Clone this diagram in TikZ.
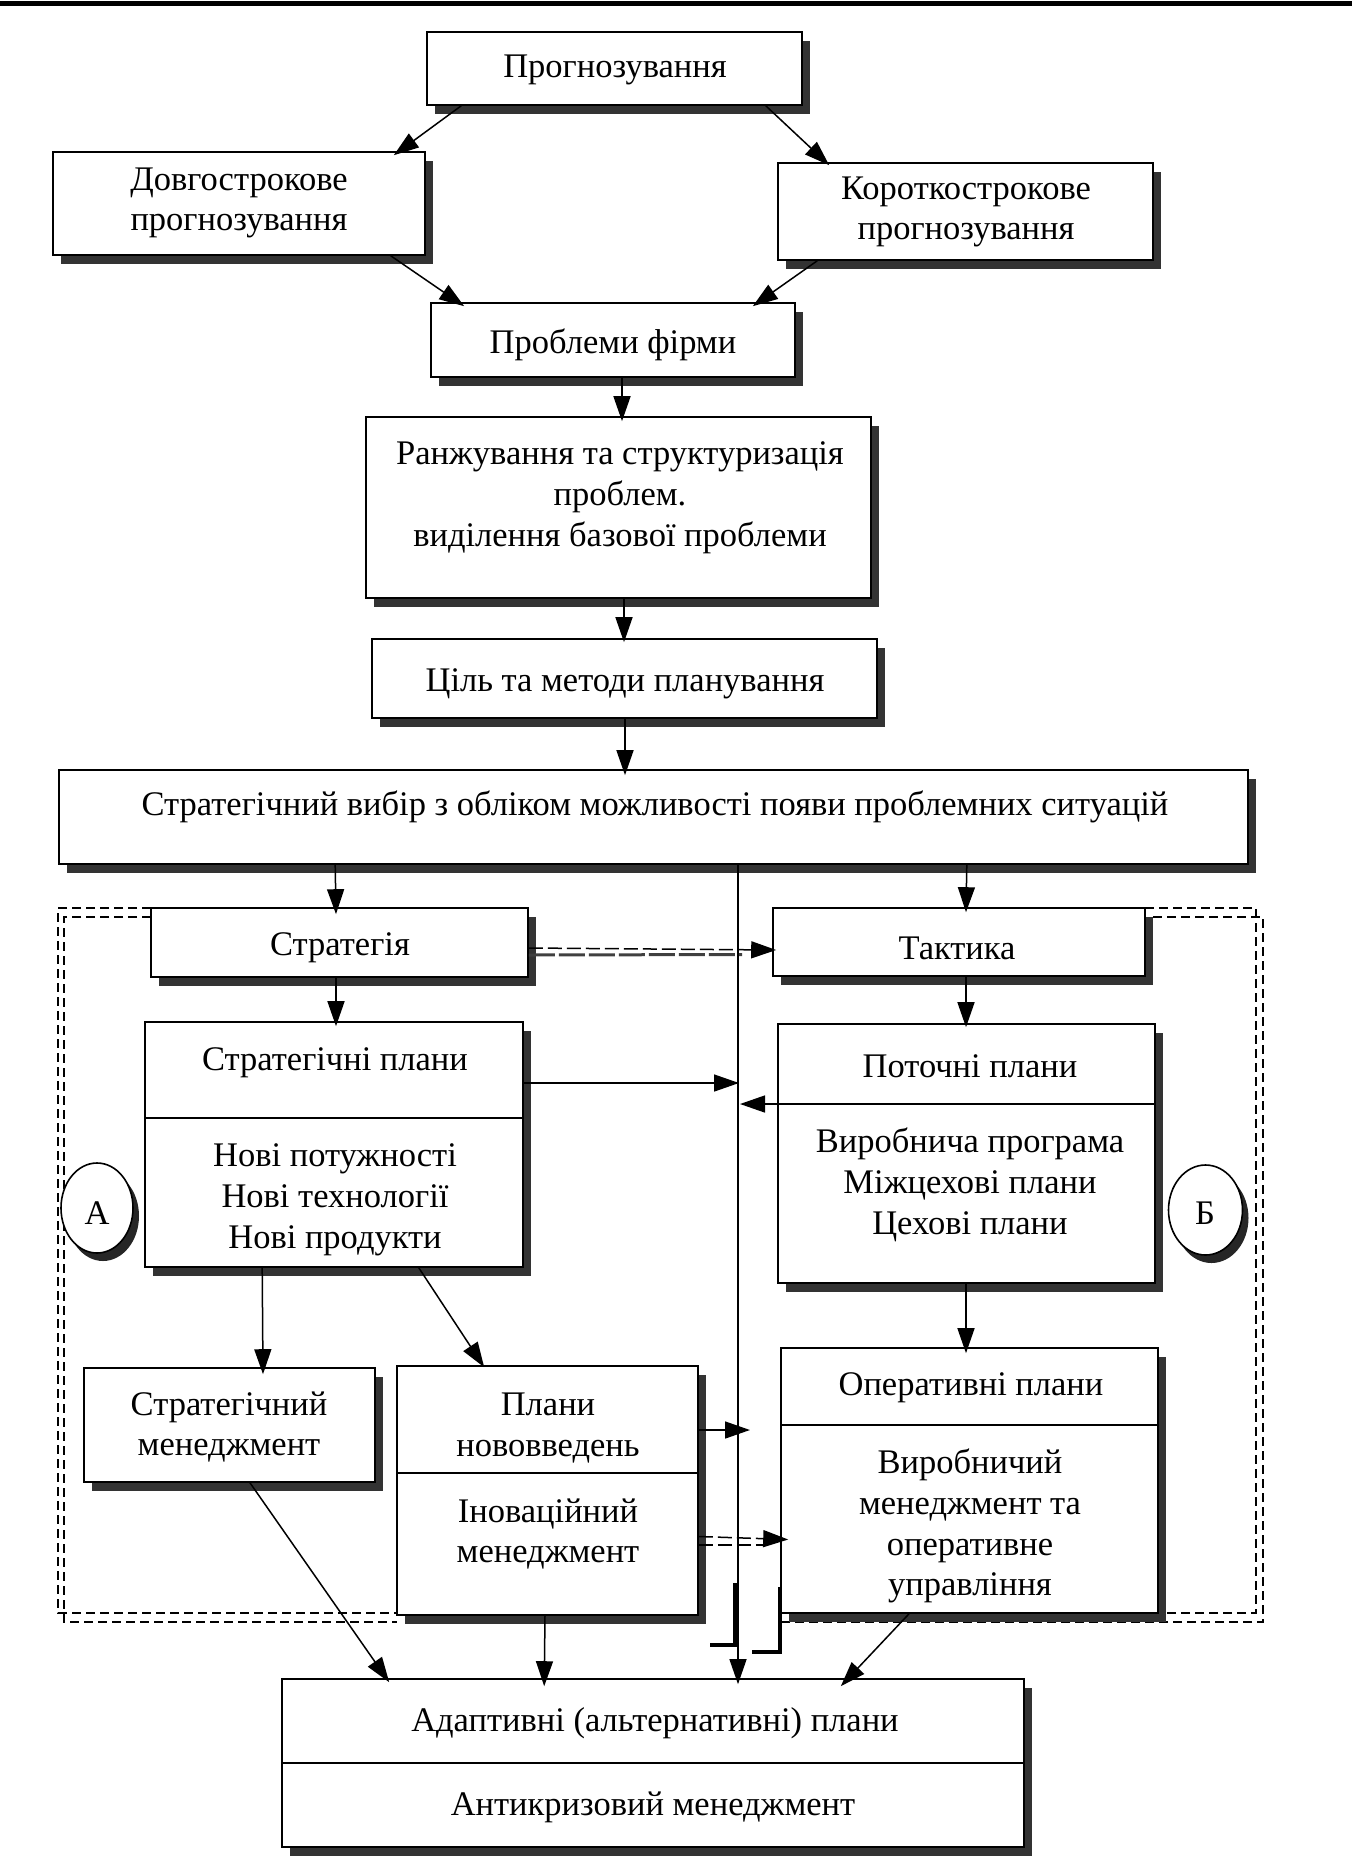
\documentclass[tikz,border=0pt]{standalone}
\usepackage{fontspec}
\setmainfont{Liberation Serif}
\usetikzlibrary{arrows.meta,shadows,shapes.geometric}
\begin{document}
\begin{tikzpicture}[x=1pt,y=-1pt,
  box/.style={draw, line width=1.6pt, fill=white, inner sep=0pt,
    drop shadow={shadow xshift=8pt, shadow yshift=-9pt, fill=black!80, opacity=1}},
  ellbox/.style={ellipse, draw, line width=1.6pt, fill=white, inner sep=0pt,
    drop shadow={shadow xshift=6pt, shadow yshift=-8pt, fill=black!85, opacity=1}},
  txt/.style={font=\fontsize{34.5}{40.8}\selectfont, align=center, inner sep=0pt},
  arr/.style={line width=1.5pt, -{Triangle[length=25pt,width=17pt]}},
  frame/.style={line width=1.6pt, dash pattern=on 9pt off 5pt},
  heavy/.style={line width=4pt},
]
\useasboundingbox (0,0) rectangle (1352,1856);
% top rule
\draw[line width=5pt] (0,3.5) -- (1352,3.5);

% dashed frames
\draw[frame] (151,908) -- (58,908) -- (58,1613) -- (397,1613);
\draw[frame] (151,917) -- (64,917) -- (64,1622) -- (397,1622);
\draw[frame] (1145,908) -- (1256,908) -- (1256,1613) -- (781,1613);
\draw[frame] (1153,917) -- (1263,917) -- (1263,1622) -- (781,1622);

% boxes
\node[box, minimum width=375pt, minimum height=73pt] (prog) at (614.5,68.5) {};
\node[box, minimum width=372pt, minimum height=103pt] (dolg) at (239,203.5) {};
\node[box, minimum width=375pt, minimum height=97pt] (korot) at (965.5,211.5) {};
\node[box, minimum width=364pt, minimum height=74pt] (probl) at (613,340) {};
\node[box, minimum width=505pt, minimum height=181pt] (ranzh) at (618.5,507.5) {};
\node[box, minimum width=505pt, minimum height=79pt] (cil) at (624.5,678.5) {};
\node[box, minimum width=1189pt, minimum height=94pt] (vybir) at (653.5,817) {};
\node[box, minimum width=377pt, minimum height=69pt] (strat) at (339.5,942.5) {};
\node[box, minimum width=372pt, minimum height=68pt] (takt) at (959,942) {};
\node[box, minimum width=378pt, minimum height=245pt] (stpl) at (334,1144.5) {};
\node[box, minimum width=377pt, minimum height=259pt] (potpl) at (966.5,1153.5) {};
\node[box, minimum width=291pt, minimum height=114pt] (stmen) at (229.5,1425) {};
\node[box, minimum width=301pt, minimum height=249pt] (nov) at (547.5,1490.5) {};
\node[box, minimum width=377pt, minimum height=265pt] (oper) at (969.5,1480.5) {};
\node[box, minimum width=742pt, minimum height=168pt] (adapt) at (653,1763) {};
\node[ellbox, minimum width=72pt, minimum height=90pt] (ella) at (97,1208) {};
\node[ellbox, minimum width=74pt, minimum height=90pt] (ellb) at (1205.5,1210) {};

% dividers
\draw[line width=1.6pt] (145,1118) -- (523,1118);
\draw[line width=1.6pt] (778,1104) -- (1155,1104);
\draw[line width=1.6pt] (397,1473) -- (698,1473);
\draw[line width=1.6pt] (781,1425) -- (1158,1425);
\draw[line width=1.6pt] (282,1763) -- (1024,1763);

% texts
\node[txt] (tprog) at (615,70) {Прогнозування};
\node[txt] (tdolg) at (239,203) {Довгострокове\\прогнозування};
\node[txt] (tkorot) at (966,212) {Короткострокове\\прогнозування};
\node[txt] (tprobl) at (613,345) {Проблеми фірми};
\node[txt] (tranzh) at (620,498) {Ранжування та структуризація\\проблем.\\виділення базової проблеми};
\node[txt] (tcil) at (625,684) {Ціль та методи планування};
\node[txt] (tvybir) at (655,807) {Стратегічний вибір з обліком можливості появи проблемних ситуацій};
\node[txt] (tstrat) at (340,948) {Стратегія};
\node[txt] (ttakt) at (957,948) {Тактика};
\node[txt] (tstpl) at (335,1063) {Стратегічні плани};
\node[txt] (tnovi) at (335,1200) {Нові потужності\\Нові технології\\Нові продукти};
\node[txt] (tpot) at (970,1066) {Поточні плани};
\node[txt] (tvyr) at (970,1185) {Виробнича програма\\Міжцехові плани\\Цехові плани};
\node[txt] (ta) at (97,1213) {А};
\node[txt] (tb) at (1205,1213) {Б};
\node[txt] (tstmen) at (229,1427) {Стратегічний\\менеджмент};
\node[txt] (tnov) at (548,1428) {Плани\\нововведень};
\node[txt] (tinov) at (548,1534) {Іноваційний\\менеджмент};
\node[txt] (toper) at (971,1388) {Оперативні плани};
\node[txt] (tvyrm) at (970,1526) {Виробничий\\менеджмент та\\оперативне\\управління};
\node[txt] (tadapt) at (655,1723) {Адаптивні (альтернативні) плани};
\node[txt] (tanti) at (653,1807) {Антикризовий менеджмент};

% junction coordinates on the main vertical line
\coordinate (mtop) at ([xshift=84.5pt]vybir.south);
\coordinate (j1) at (739,1083);
\coordinate (j2) at (740,1104);
\coordinate (j3) at (750,1430);

% connectors
\draw[arr] ([xshift=35pt]prog.south west) -- ([xshift=-32pt,yshift=-4pt]dolg.north east);
\draw[arr] ([xshift=-37pt]prog.south east) -- ([xshift=52pt,yshift=-3pt]korot.north west);
\draw[arr] ([xshift=-35pt]dolg.south east) -- ([xshift=34pt,yshift=-4pt]probl.north west);
\draw[arr] ([xshift=40pt]korot.south west) -- ([xshift=-43pt,yshift=-4pt]probl.north east);
\draw[arr] ([xshift=9pt]probl.south) -- ([xshift=3.5pt,yshift=-5pt]ranzh.north);
\draw[arr] ([xshift=5.5pt]ranzh.south) -- ([xshift=-0.5pt,yshift=-4pt]cil.north);
\draw[arr] ([xshift=0.5pt]cil.south) -- ([xshift=-28.5pt,yshift=-6pt]vybir.north);
\draw[arr] ([xshift=277pt]vybir.south west) -- ([xshift=-3.5pt,yshift=-7pt]strat.north);
\draw[arr] ([xshift=-282pt]vybir.south east) -- ([xshift=7pt,yshift=-5pt]takt.north);
\draw[arr] ([xshift=-3.5pt]strat.south) -- ([xshift=2pt,yshift=-5pt]stpl.north);
\draw[arr] ([xshift=7pt]takt.south) -- ([xshift=-0.5pt,yshift=-4pt]potpl.north);
% dashed Стратегія -> Тактика
\draw[line width=3pt, black!75, dash pattern=on 26pt off 4pt] ([yshift=-12.5pt]strat.east) -- ([xshift=-30pt,yshift=-12.5pt]takt.west);
\draw[arr, dash pattern=on 14pt off 5pt] ([yshift=-5.5pt]strat.east) -- ([xshift=4pt,yshift=-8pt]takt.west);
% main vertical line
\draw[arr, line width=1.3pt] (mtop) -- ([xshift=85pt,yshift=-6pt]adapt.north);
\draw[arr] ([yshift=61.5pt]stpl.east) -- (j1);
\draw[arr] ([yshift=49.5pt]potpl.west) -- (j2);
\draw[arr] ([xshift=118pt]stpl.south west) -- ([xshift=33.5pt,yshift=-7pt]stmen.north);
\draw[arr] ([xshift=-105pt]stpl.south east) -- ([xshift=88pt,yshift=-2pt]nov.north west);
\draw[arr] ([xshift=-0.5pt]potpl.south) -- ([xshift=-3.5pt,yshift=-6pt]oper.north);
\draw[arr] ([yshift=60.5pt]nov.east) -- (j3);
% dashed Іноваційний -> Оперативні
\draw[line width=1.6pt, dash pattern=on 14pt off 5pt] ([yshift=-54.5pt]nov.east) -- ([xshift=-14pt,yshift=-64.5pt]oper.west);
\draw[arr, dash pattern=on 14pt off 5pt] ([yshift=-46pt]nov.east) -- ([xshift=8pt,yshift=-59pt]oper.west);
\draw[arr] ([xshift=20.5pt]stmen.south) -- ([xshift=108pt,yshift=-4pt]adapt.north west);
\draw[arr] ([xshift=-2.5pt]nov.south) -- ([xshift=263pt,yshift=-8pt]adapt.north west);
\draw[arr] ([xshift=-60.5pt]oper.south) -- ([xshift=-184pt,yshift=-8pt]adapt.north east);
% heavy elbows near the bottom of the main line
\draw[heavy] (735,1583) -- (735,1645) -- (710,1645);
\draw[heavy] (780,1587) -- (780,1652) -- (752,1652);
\end{tikzpicture}
\end{document}
